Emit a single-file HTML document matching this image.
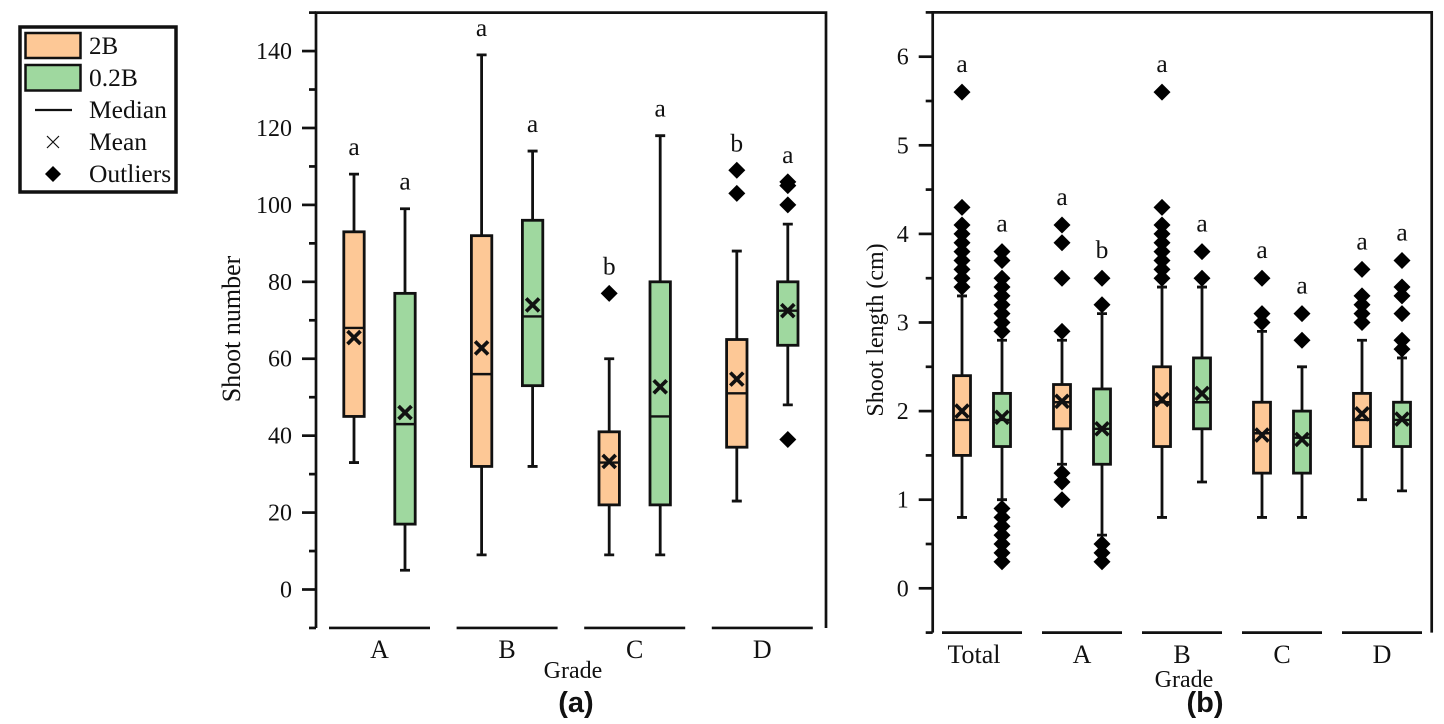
<!DOCTYPE html>
<html>
<head>
<meta charset="utf-8">
<title>Shoot number and shoot length by grade</title>
<style>
html,body{margin:0;padding:0;background:#fff;width:1444px;height:724px;overflow:hidden}
svg{display:block}
text{font-family:"Liberation Serif",serif;fill:#111}
.bold{font-family:"Liberation Sans",sans-serif;font-weight:bold;font-size:29px}
</style>
</head>
<body>
<svg id="chart" width="1444" height="724" viewBox="0 0 1444 724" xmlns="http://www.w3.org/2000/svg">
  <g>
    <rect x="20" y="27" width="156" height="165" fill="#fff" stroke="#111" stroke-width="3.5"/>
    <rect x="25.5" y="33" width="55" height="25" fill="#FDC896" stroke="#111" stroke-width="2.5"/>
    <rect x="25.5" y="65" width="55" height="25.5" fill="#9FD89F" stroke="#111" stroke-width="2.5"/>
    <line x1="35" x2="72" y1="110" y2="110" stroke="#111" stroke-width="2.2"/>
    <path d="M47 136L59 148M59 136L47 148" stroke="#111" stroke-width="1.2" fill="none"/>
    <path d="M53 166L61 174L53 182L45 174Z" fill="#000"/>
    <text x="89" y="54" font-size="25">2B</text>
    <text x="89" y="86" font-size="25.5">0.2B</text>
    <text x="89" y="118" font-size="25.5">Median</text>
    <text x="89" y="150" font-size="25.5">Mean</text>
    <text x="89" y="182" font-size="25.5">Outliers</text>
  </g>
  <text transform="translate(240,329) rotate(-90)" text-anchor="middle" font-size="26">Shoot number</text>
  <text transform="translate(883,330) rotate(-90)" text-anchor="middle" font-size="24">Shoot length (cm)</text>
  <text x="573" y="678" text-anchor="middle" font-size="24">Grade</text>
  <text x="1184" y="687" text-anchor="middle" font-size="24">Grade</text>
  <text class="bold" x="576" y="712" text-anchor="middle">(a)</text>
  <text class="bold" x="1205" y="712" text-anchor="middle">(b)</text>
  <g id="panel-a"></g>
  <g id="panel-b"></g>
</svg>
<script>
// Panel (a): each array holds 8 boxes in order A-2B, A-0.2B, B-2B, B-0.2B ...
const aCategories = ['A', 'B', 'C', 'D'];
const aWhiskerLow = [33, 5, 9, 32, 9, 9, 23, 48];
const aQ1 = [45, 17, 32, 53, 22, 22, 37, 63.5];
const aMedian = [68, 43, 56, 71, 33, 45, 51, 72.5];
const aQ3 = [93, 77, 92, 96, 41, 80, 65, 80];
const aWhiskerHigh = [108, 99, 139, 114, 60, 118, 88, 95];
const aMean = [65.5, 46, 62.8, 74, 33.3, 52.7, 54.7, 72.5];
const aOutliers = [[], [], [], [], [77], [], [103, 109], [39, 100, 105, 106]];
const aLetters = ['a', 'a', 'a', 'a', 'b', 'a', 'b', 'a'];
const aMajorTicks = [0, 20, 40, 60, 80, 100, 120, 140];
const aMinorTicks = [-10, 10, 30, 50, 70, 90, 110, 130, 150];

// Panel (b): each array holds 10 boxes in order Total-2B, Total-0.2B, A-2B ...
const bCategories = ['Total', 'A', 'B', 'C', 'D'];
const bWhiskerLow = [0.8, 1.0, 1.4, 0.6, 0.8, 1.2, 0.8, 0.8, 1.0, 1.1];
const bQ1 = [1.5, 1.6, 1.8, 1.4, 1.6, 1.8, 1.3, 1.3, 1.6, 1.6];
const bMedian = [1.9, 1.9, 2.1, 1.8, 2.1, 2.1, 1.75, 1.7, 1.9, 1.9];
const bQ3 = [2.4, 2.2, 2.3, 2.25, 2.5, 2.6, 2.1, 2.0, 2.2, 2.1];
const bWhiskerHigh = [3.3, 2.8, 2.8, 3.1, 3.4, 3.4, 2.9, 2.5, 2.8, 2.6];
const bMean = [2.0, 1.93, 2.11, 1.8, 2.13, 2.2, 1.73, 1.68, 1.97, 1.91];
const bOutliers = [
  [3.4, 3.5, 3.6, 3.7, 3.8, 3.9, 4.0, 4.1, 4.3, 5.6],
  [0.3, 0.4, 0.5, 0.6, 0.7, 0.8, 0.9, 2.9, 3.0, 3.1, 3.2, 3.3, 3.4, 3.5, 3.7, 3.8],
  [1.0, 1.2, 1.3, 2.9, 3.5, 3.9, 4.1],
  [0.3, 0.4, 0.5, 3.2, 3.5],
  [3.5, 3.6, 3.7, 3.8, 3.9, 4.0, 4.1, 4.3, 5.6],
  [3.5, 3.8],
  [3.0, 3.1, 3.5],
  [2.8, 3.1],
  [3.0, 3.1, 3.2, 3.3, 3.6],
  [2.7, 2.8, 3.1, 3.3, 3.4, 3.7]
];
const bLetters = ['a', 'a', 'a', 'b', 'a', 'a', 'a', 'a', 'a', 'a'];
const bMajorTicks = [0, 1, 2, 3, 4, 5, 6];
const bMinorTicks = [-0.5, 0.5, 1.5, 2.5, 3.5, 4.5, 5.5, 6.5];

const seriesNames = ['2B', '0.2B'];
const INK = '#111';
const FILLS = ['#FDC896', '#9FD89F'];
const NS = 'http://www.w3.org/2000/svg';

function make(parent, tag, attrs, text) {
  const node = document.createElementNS(NS, tag);
  for (const key in attrs) node.setAttribute(key, attrs[key]);
  if (text !== undefined) node.textContent = text;
  parent.appendChild(node);
  return node;
}

function drawPanel(root, cfg, d) {
  const y = v => cfg.y0 + (v - cfg.v0) * cfg.unit;
  const groupX = g => cfg.x0 + g * cfg.step;
  const boxX = i => groupX(Math.floor(i / 2)) + (i % 2 === 0 ? -cfg.offset : cfg.offset);
  const top = y(cfg.vMax), bottom = y(cfg.vMin);

  const frame = make(root, 'path', {d: 'M' + cfg.left + ' ' + bottom + 'V' + top + 'H' + cfg.right + 'V' + bottom, fill: 'none', stroke: INK, 'stroke-width': 2.7});
  
  

  d.majors.forEach(v => {
    const tick = make(root, 'line', {x1: cfg.left - 14, x2: cfg.left, y1: y(v), y2: y(v), stroke: INK, 'stroke-width': 2.7});
    
    
    const label = make(root, 'text', {x: cfg.left - 24, y: y(v) + 8, 'text-anchor': 'end', 'font-size': 24}, String(v));
    
    
  });
  d.minors.forEach(v => {
    const tick = make(root, 'line', {x1: cfg.left - 7, x2: cfg.left, y1: y(v), y2: y(v), stroke: INK, 'stroke-width': 2.7});
    
    
  });

  d.categories.forEach((c, g) => {
    const seg = make(root, 'line', {x1: groupX(g) - cfg.segHalf, x2: groupX(g) + cfg.segHalf, y1: bottom, y2: bottom, stroke: INK, 'stroke-width': 2.7});
    
    
    const shift = c === 'Total' ? -8 : 0;
    const label = make(root, 'text', {x: groupX(g) + shift, y: cfg.labelY, 'text-anchor': 'middle', 'font-size': 26}, c);
    
    
  });

  d.q1.forEach((_, i) => {
    const x = boxX(i);
    const group = make(root, 'g', {});
    
    

    const whisker = make(group, 'path', {
      d: 'M' + (x - 5) + ' ' + y(d.high[i]) + 'H' + (x + 5) + 'M' + x + ' ' + y(d.high[i]) + 'V' + y(d.low[i]) + 'M' + (x - 5) + ' ' + y(d.low[i]) + 'H' + (x + 5),
      fill: 'none', stroke: INK, 'stroke-width': 2.8
    });
    
    

    const box = make(group, 'rect', {x: x - cfg.boxHalf, y: y(d.q3[i]), width: cfg.boxHalf * 2, height: y(d.q1[i]) - y(d.q3[i]), fill: FILLS[i % 2], stroke: INK, 'stroke-width': 2.8});
    
    

    const med = make(group, 'line', {x1: x - cfg.boxHalf, x2: x + cfg.boxHalf, y1: y(d.median[i]), y2: y(d.median[i]), stroke: INK, 'stroke-width': 2.4});
    
    

    const my = y(d.mean[i]);
    const mean = make(group, 'path', {d: 'M' + (x - 6.5) + ' ' + (my - 6.5) + 'L' + (x + 6.5) + ' ' + (my + 6.5) + 'M' + (x + 6.5) + ' ' + (my - 6.5) + 'L' + (x - 6.5) + ' ' + (my + 6.5), fill: 'none', stroke: INK, 'stroke-width': 3.7});
    
    

    d.outliers[i].forEach(v => {
      const oy = y(v);
      const dot = make(group, 'path', {d: 'M' + x + ' ' + (oy - 8.5) + 'L' + (x + 8.5) + ' ' + oy + 'L' + x + ' ' + (oy + 8.5) + 'L' + (x - 8.5) + ' ' + oy + 'Z', fill: '#000'});
      
      
    });

    const highest = Math.max(d.high[i], ...d.outliers[i]);
    const letter = make(group, 'text', {x: x, y: y(highest) - cfg.letterGap, 'text-anchor': 'middle', 'font-size': 25.5}, d.letters[i]);
    
    
  });
}

drawPanel(document.getElementById('panel-a'),
  {v0: 0, y0: 589.5, unit: -3.846, vMin: -10, vMax: 150, left: 316, right: 826, x0: 379.5, step: 127.6, offset: 25.5, boxHalf: 10.2, segHalf: 50.5, labelY: 658, letterGap: 19},
  {categories: aCategories, low: aWhiskerLow, q1: aQ1, median: aMedian, q3: aQ3, high: aWhiskerHigh, mean: aMean, outliers: aOutliers, letters: aLetters, majors: aMajorTicks, minors: aMinorTicks});

drawPanel(document.getElementById('panel-b'),
  {v0: 0, y0: 588.3, unit: -88.6, vMin: -0.5, vMax: 6.5, left: 932.7, right: 1431.7, x0: 982, step: 100, offset: 20, boxHalf: 8.5, segHalf: 40, labelY: 663, letterGap: 20},
  {categories: bCategories, low: bWhiskerLow, q1: bQ1, median: bMedian, q3: bQ3, high: bWhiskerHigh, mean: bMean, outliers: bOutliers, letters: bLetters, majors: bMajorTicks, minors: bMinorTicks});
</script>
</body>
</html>
